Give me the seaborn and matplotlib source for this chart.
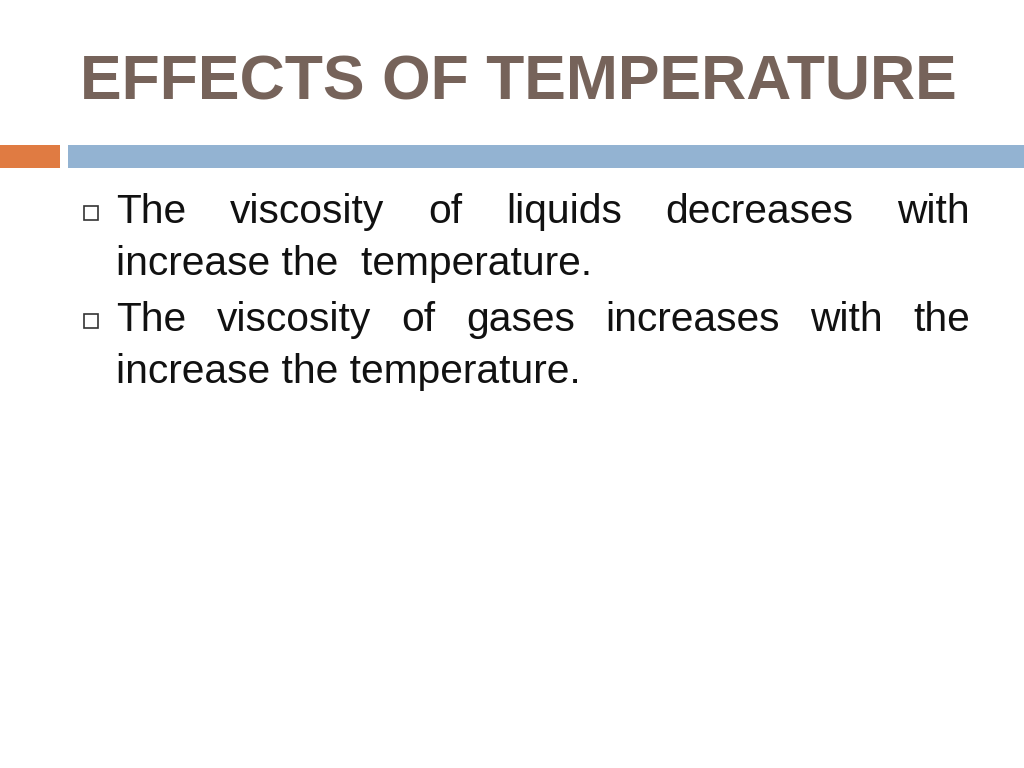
import matplotlib
matplotlib.use("Agg")
import matplotlib.pyplot as plt
import seaborn as sns

sns.set_theme(style="white")
plt.rcParams['font.family'] = ['Liberation Sans', 'DejaVu Sans']

title = "EFFECTS OF TEMPERATURE"
bullets = [
    ["The viscosity of liquids decreases with", "increase the  temperature."],
    ["The viscosity of gases increases with the", "increase the temperature."],
]
justified = [[True, False], [True, False]]

W, H = 1024, 768
fig = plt.figure(figsize=(10.24, 7.68), dpi=100)
ax = fig.add_axes([0, 0, 1, 1])
ax.set_xlim(0, W)
ax.set_ylim(H, 0)
ax.axis("off")

ax.text(80, 83, title, fontsize=45, fontweight="bold", color="#76635a",
        va="center", ha="left")

ax.add_patch(plt.Rectangle((0, 145), 60, 23, color="#e07b42", lw=0))
ax.add_patch(plt.Rectangle((68, 145), W - 68, 23, color="#93b3d2", lw=0))

fig.canvas.draw()
r = fig.canvas.get_renderer()
left, right = 116, 970
fs = 29.3
y0 = 212
line_h = 52
y = y0
for lines, just in zip(bullets, justified):
    ax.add_patch(plt.Rectangle((84, y - 6), 14, 14, fill=False,
                               edgecolor="#333333", lw=1.2))
    for line, j in zip(lines, just):
        if j:
            words = line.split()
            texts = [ax.text(0, y, w, fontsize=fs, color="#111111", va="center")
                     for w in words]
            widths = [t.get_window_extent(r).width for t in texts]
            gap = (right - left - sum(widths)) / (len(words) - 1)
            x = left
            for t, w in zip(texts, widths):
                t.set_x(x)
                x += w + gap
        else:
            ax.text(left, y, line, fontsize=fs, color="#111111", va="center")
        y += line_h
    y += 4

fig.savefig("out.png", dpi=100)
